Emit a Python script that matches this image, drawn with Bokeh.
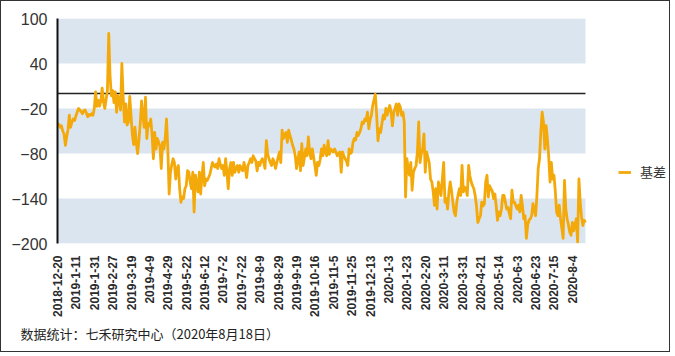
from math import pi
from bokeh.plotting import figure
from bokeh.models import (Range1d, FixedTicker, BoxAnnotation, Legend,
                          LegendItem, Title, ColumnDataSource)
from bokeh.embed import file_html
from bokeh.resources import INLINE

tick_labels = ["2018-12-20", "2019-1-11", "2019-1-31", "2019-2-27", "2019-3-19",
               "2019-4-9", "2019-4-29", "2019-5-22", "2019-6-12", "2019-7-2",
               "2019-7-22", "2019-8-9", "2019-8-29", "2019-9-19", "2019-10-16",
               "2019-11-5", "2019-11-25", "2019-12-13", "2020-1-3", "2020-1-23",
               "2020-2-20", "2020-3-11", "2020-3-31", "2020-4-21", "2020-5-14",
               "2020-6-3", "2020-6-23", "2020-7-15", "2020-8-4"]
tick_step = 14

basis = [
    -42, -41, -45, -43, -50, -54, -69, -58, -48, -29,
    -45, -38, -34, -36, -30, -25, -20, -22, -24, -27,
    -23, -22, -26, -31, -28, -29, -27, -29, -20, 2,
    -17, -9, -17, -10, 7, -11, -20, -8, 4, 80,
    24, -3, 4, -12, 2, -25, -3, -10, -22, 40,
    -5, -38, -14, -42, -38, -4, -30, -55, -68, -45,
    -66, -80, -62, -40, -10, -30, -45, -5, -60, -40,
    -43, -34, -55, -87, -52, -74, -60, -65, -70, -100,
    -65, -74, -60, -34, -74, -134, -105, -95, -87, -92,
    -114, -100, -96, -127, -145, -138, -140, -127, -123, -103,
    -105, -118, -127, -105, -158, -109, -120, -131, -105, -134,
    -110, -92, -123, -114, -116, -112, -108, -100, -92, -96,
    -98, -94, -100, -87, -95, -100, -96, -109, -87, -105,
    -127, -100, -92, -109, -92, -105, -100, -96, -105, -96,
    -100, -103, -92, -100, -112, -96, -92, -87, -92, -83,
    -87, -90, -103, -92, -96, -90, -87, -92, -100, -63,
    -80, -87, -92, -96, -87, -92, -100, -92, -85, -78,
    -92, -49, -60, -55, -52, -65, -49, -56, -62, -69,
    -74, -83, -100, -88, -78, -103, -67, -96, -85, -74,
    -83, -58, -78, -87, -74, -85, -96, -109, -92, -96,
    -88, -74, -83, -69, -78, -83, -63, -81, -74, -76,
    -78, -74, -78, -83, -80, -78, -105, -78, -83, -87,
    -90, -96, -74, -80, -78, -65, -60, -62, -52, -56,
    -52, -47, -38, -40, -34, -36, -25, -47, -35, -29,
    -16, -8, -1, -29, -63, -47, -52, -40, -29, -34,
    -20, -29, -22, -16, -25, -43, -25, -20, -14, -29,
    -14, -18, -29, -25, -38, -138, -87, -100, -109, -92,
    -129, -105, -100, -96, -78, -38, -92, -80, -74, -54,
    -105, -78, -85, -92, -114, -118, -130, -149, -127, -154,
    -118, -125, -136, -114, -92, -145, -140, -154, -131, -118,
    -130, -145, -158, -163, -145, -135, -127, -136, -96, -131,
    -125, -127, -136, -96, -110, -118, -123, -127, -136, -150,
    -172, -167, -163, -145, -150, -147, -118, -109, -138, -123,
    -127, -130, -140, -134, -150, -169, -158, -163, -154, -136,
    -136, -145, -154, -152, -160, -167, -129, -145, -145, -150,
    -154, -149, -158, -136, -150, -167, -163, -193, -175, -169,
    -167, -163, -147, -155, -163, -136, -100, -87, -50, -25,
    -38, -74, -43, -60, -85, -118, -92, -114, -109, -130,
    -158, -163, -149, -167, -180, -193, -116, -154, -167, -175,
    -185, -189, -172, -183, -175, -167, -198, -114, -145, -165,
    -176, -169, -172,
]
y_ticks = [100, 40, -20, -80, -140, -200]
bands = [(40, 100), (-80, -20), (-200, -140)]
series_name = "基差"
footer = "数据统计：七禾研究中心（2020年8月18日）"

n = len(basis)
x = list(range(n))
src = ColumnDataSource(dict(x=x, y=basis))

# plot area 528 px wide for the data, plus a blank strip on the right for the legend
frame_w, data_w = 614, 528
x_end = (n - 1) * frame_w / data_w

p = figure(width=670, height=352, output_backend="svg", toolbar_location=None,
           x_range=Range1d(0, x_end), y_range=Range1d(-200, 100),
           min_border_left=56, min_border_top=17, min_border_right=0,
           min_border_bottom=110)
p.styles = {"border": "1px solid #333"}
p.outline_line_color = None
p.grid.visible = False
p.background_fill_color = "white"

for lo, hi in bands:
    p.add_layout(BoxAnnotation(bottom=lo, top=hi, left=0, right=n - 1,
                               fill_color="#dbe5f0", fill_alpha=1.0,
                               line_color=None, level="underlay"))
p.segment(x0=[0], y0=[0], x1=[n - 1], y1=[0], line_color="#222222",
          line_width=1.5)

r = p.line("x", "y", source=src, line_color="#f4a90a", line_width=2.8,
           line_join="round")

ticks = [i * tick_step for i in range(len(tick_labels))]
p.xaxis.ticker = FixedTicker(ticks=ticks)
p.xaxis.major_label_overrides = {t: lab for t, lab in zip(ticks, tick_labels)}
p.xaxis.major_label_orientation = pi / 2
p.xaxis.major_label_text_font = "Liberation Sans"
p.xaxis.major_label_text_font_style = "bold"
p.xaxis.major_label_text_font_size = "12px"
p.xaxis.major_label_text_color = "#2a2a2a"
p.xaxis.axis_line_color = None
p.xaxis.major_tick_line_color = None
p.xaxis.minor_tick_line_color = None
p.xaxis.major_label_standoff = 6

p.yaxis.ticker = FixedTicker(ticks=y_ticks)
p.yaxis.major_label_text_font = "Liberation Sans"
p.yaxis.major_label_text_font_size = "16px"
p.yaxis.major_label_text_color = "#333333"
p.yaxis.axis_line_color = "#111111"
p.yaxis.axis_line_width = 2
p.yaxis.major_tick_line_color = None
p.yaxis.minor_tick_line_color = None
p.yaxis.major_label_standoff = 4

legend = Legend(items=[LegendItem(label=series_name, renderers=[r])],
                location=(561, 62), border_line_color=None,
                background_fill_alpha=0, padding=2, margin=0,
                glyph_width=13, glyph_height=16, label_standoff=9,
                label_text_font="Noto Sans CJK SC", label_text_font_size="13px",
                label_text_color="#333333")
p.add_layout(legend, "center")

t = Title(text=footer, align="left", offset=-37, text_font="Noto Sans CJK SC",
          text_font_size="13px", text_font_style="normal", text_color="#222222",
          standoff=5)
p.add_layout(t, "below")

open("out.html", "w").write(file_html(p, INLINE))
